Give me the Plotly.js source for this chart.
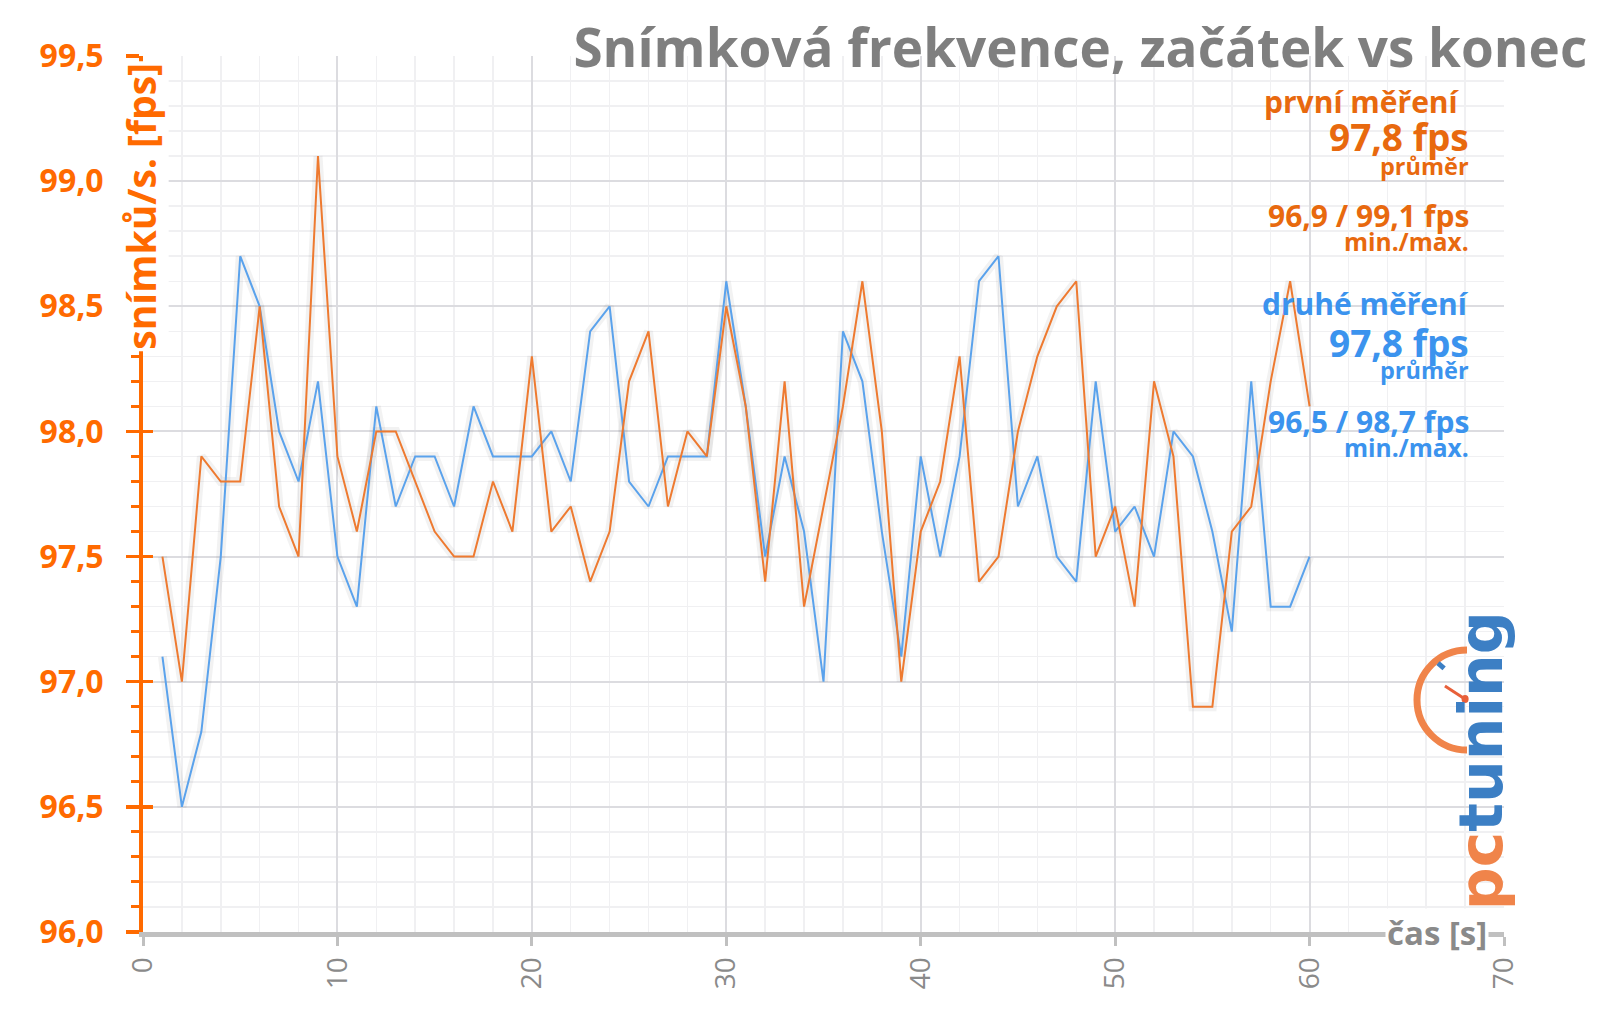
<!DOCTYPE html>
<html>
<head>
<meta charset="utf-8">
<script src="https://cdn.plot.ly/plotly-3.0.1.min.js"></script>
<style>html,body{margin:0;padding:0;background:#fff;}#chart{width:1600px;height:1015px;}</style>
</head>
<body>
<div id="chart"></div>
<script>
// time in seconds
const seconds = [1,2,3,4,5,6,7,8,9,10,11,12,13,14,15,16,17,18,19,20,21,22,23,24,25,26,27,28,29,30,31,32,33,34,35,36,37,38,39,40,41,42,43,44,45,46,47,48,49,50,51,52,53,54,55,56,57,58,59,60];
// první měření (orange)
const firstRun = [97.5,97.0,97.9,97.8,97.8,98.5,97.7,97.5,99.1,97.9,
                  97.6,98.0,98.0,97.8,97.6,97.5,97.5,97.8,97.6,98.3,
                  97.6,97.7,97.4,97.6,98.2,98.4,97.7,98.0,97.9,98.5,
                  98.1,97.4,98.2,97.3,97.7,98.1,98.6,98.0,97.0,97.6,
                  97.8,98.3,97.4,97.5,98.0,98.3,98.5,98.6,97.5,97.7,
                  97.3,98.2,97.9,96.9,96.9,97.6,97.7,98.2,98.6,98.1];
// druhé měření (blue)
const secondRun = [97.1,96.5,96.8,97.5,98.7,98.5,98.0,97.8,98.2,97.5,
                   97.3,98.1,97.7,97.9,97.9,97.7,98.1,97.9,97.9,97.9,
                   98.0,97.8,98.4,98.5,97.8,97.7,97.9,97.9,97.9,98.6,
                   98.1,97.5,97.9,97.6,97.0,98.4,98.2,97.6,97.1,97.9,
                   97.5,97.9,98.6,98.7,97.7,97.9,97.5,97.4,98.2,97.6,
                   97.7,97.5,98.0,97.9,97.6,97.2,98.2,97.3,97.3,97.5];

const yTicks = [96.0,96.5,97.0,97.5,98.0,98.5,99.0,99.5];
const xTicks = [0,10,20,30,40,50,60,70];

const ORANGE_LINE = '#EE7A30';
const BLUE_LINE = '#5AA2EC';
const ORANGE_TXT = '#E8690E';
const BLUE_TXT = '#3B93EE';
const AXIS_ORANGE = '#FF6A00';
const GRAY = '#8A8A8A';
const FONT = 'Open Sans, Noto Sans, sans-serif';

const traces = [
  {x: seconds, y: firstRun, type:'scatter', mode:'lines', yaxis:'y', line:{color:'rgba(90,90,90,0.08)', width:9}, hoverinfo:'skip', showlegend:false},
  {x: seconds, y: secondRun, type:'scatter', mode:'lines', yaxis:'y', line:{color:'rgba(90,90,90,0.08)', width:9}, hoverinfo:'skip', showlegend:false},
  {x: seconds, y: secondRun, type:'scatter', mode:'lines', yaxis:'y2', name:'druhé měření', line:{color:BLUE_LINE, width:2}, showlegend:false},
  {x: seconds, y: firstRun, type:'scatter', mode:'lines', yaxis:'y2', name:'první měření', line:{color:ORANGE_LINE, width:2}, showlegend:false}
];

function txt(text, y, size, color, x){
  return {xref:'paper', yref:'paper', x: (x===undefined?0.976:x), y: y, xanchor:'right', yanchor:'middle',
          text:'<b>'+text+'</b>', showarrow:false, font:{family:FONT, size:size, color:color}};
}

const layout = {
  width:1600, height:1015,
  margin:{l:143, r:96, t:56, b:83},
  paper_bgcolor:'#ffffff', plot_bgcolor:'#ffffff',
  separators:', ',
  showlegend:false,
  title:{text:'<b>Snímková frekvence, začátek vs konec</b>', xref:'container', yref:'container',
         x:0.992, xanchor:'right', y:0.952, yanchor:'middle',
         font:{family:FONT, size:53, color:'#7F7F7F'}},
  xaxis:{range:[0,70], tickvals:xTicks, ticktext:xTicks.map(String), tickangle:-90,
         showline:true, linecolor:'#C0C0C0', linewidth:5,
         ticks:'outside', ticklen:9, tickwidth:3, tickcolor:'#C0C0C0',
         tickfont:{family:FONT, size:28, color:GRAY},
         showgrid:true, gridcolor:'#DCDCE0', gridwidth:2, zeroline:false,
         minor:{dtick:2, showgrid:true, gridcolor:'#F0F0F2', gridwidth:1.5}},
  yaxis:{range:[96,99.5], tickvals:yTicks, tickformat:'.1f',
         showline:true, linecolor:AXIS_ORANGE, linewidth:4,
         ticks:'outside', ticklen:13, tickwidth:3.5, tickcolor:AXIS_ORANGE,
         ticklabelstandoff:16,
         tickfont:{family:FONT, size:32, color:AXIS_ORANGE, weight:'bold'},
         showgrid:true, gridcolor:'#DCDCE0', gridwidth:2, zeroline:false,
         minor:{dtick:0.1, ticks:'outside', ticklen:8, tickwidth:3, tickcolor:AXIS_ORANGE,
                showgrid:true, gridcolor:'#F0F0F2', gridwidth:1.5}},
  yaxis2:{range:[96,99.5], overlaying:'y', side:'left', anchor:'x', tickvals:yTicks,
          ticks:'inside', ticklen:10, tickwidth:3.5, tickcolor:AXIS_ORANGE,
          showticklabels:false, showgrid:false, showline:false, zeroline:false},
  annotations:[
    {xref:'paper', yref:'paper', x:-0.0015, y:0.829, xanchor:'center', yanchor:'middle', textangle:-90,
     text:'<b>snímků/s. [fps]</b>', showarrow:false, bgcolor:'#ffffff',
     font:{family:FONT, size:39, color:AXIS_ORANGE}},
    {xref:'paper', yref:'paper', x:0.951, y:0, xanchor:'center', yanchor:'middle',
     text:'<b>čas [s]</b>', showarrow:false, bgcolor:'#ffffff',
     font:{family:FONT, size:33, color:GRAY}},
    txt('první měření', 0.9475, 30, ORANGE_TXT, 0.969),
    txt('97,8 fps', 0.908, 37, ORANGE_TXT),
    txt('průměr', 0.874, 23.5, ORANGE_TXT),
    txt('96,9 / 99,1 fps', 0.8174, 30, ORANGE_TXT),
    txt('min./max.', 0.788, 24.5, ORANGE_TXT),
    txt('druhé měření', 0.7169, 30, BLUE_TXT),
    txt('97,8 fps', 0.673, 37, BLUE_TXT),
    txt('průměr', 0.641, 23.5, BLUE_TXT),
    txt('96,5 / 98,7 fps', 0.5833, 30, BLUE_TXT),
    txt('min./max.', 0.553, 24.5, BLUE_TXT),
    {xref:'paper', yref:'paper', x:0.983, y:0.196, xanchor:'center', yanchor:'middle', textangle:-90,
     text:'<span style="color:#F0844A">pc</span><span style="color:#3C7FC4">tuning</span>', showarrow:false,
     font:{family:'DejaVu Sans, sans-serif', size:60, weight:'bold'}}
  ],
  shapes:[
    {type:'path', xref:'paper', yref:'paper', layer:'above',
     path:'M 0.97281 0.32192 C 0.95253 0.32192 0.93608 0.29635 0.93608 0.26484 C 0.93608 0.23333 0.95253 0.20776 0.97281 0.20776',
     line:{color:'#F0844A', width:7}},
    {type:'line', xref:'paper', yref:'paper', layer:'above',
     x0:0.9566, y0:0.2808, x1:0.9713, y1:0.2660, line:{color:'#E8603A', width:3}},
    {type:'circle', xref:'paper', yref:'paper', layer:'above',
     x0:0.9688, y0:0.2614, x1:0.9740, y1:0.2706, fillcolor:'#E8603A', line:{width:0}},
    {type:'line', xref:'paper', yref:'paper', layer:'above',
     x0:0.9515, y0:0.3070, x1:0.9560, y1:0.3010, line:{color:'#3C7FC4', width:5}}
  ]
};

Plotly.newPlot('chart', traces, layout, {displayModeBar:false, staticPlot:true});
</script>
</body>
</html>
